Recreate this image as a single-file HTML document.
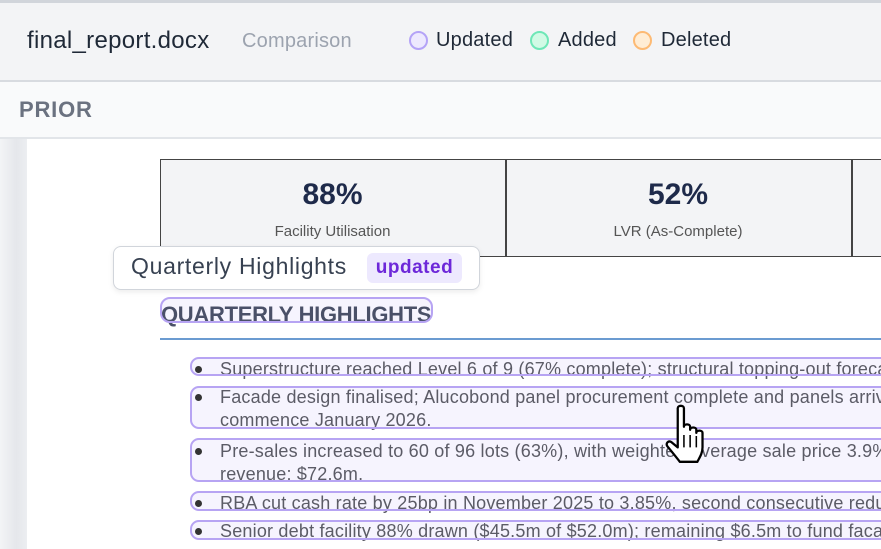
<!DOCTYPE html>
<html><head><style>
*{margin:0;padding:0;box-sizing:border-box}
body{width:881px;height:549px;overflow:hidden;background:#fff;font-family:"Liberation Sans",sans-serif;position:relative}
.abs{position:absolute}
.lg{position:absolute;top:31px;width:19px;height:19px;border-radius:50%;border:2px solid}
.lt{position:absolute;top:29px;font-size:20px;color:#1f2937;letter-spacing:0.2px}
.item{position:absolute;left:190px;width:720px;border:2px solid #b7a4f3;border-radius:9px}
.bg{position:absolute;left:190px;width:720px;background:#f6f4fe;border-radius:9px}
.txt{position:absolute;left:220px;font-size:18px;color:#5b5b66;line-height:23px;white-space:nowrap;letter-spacing:0.2px}
.dot{position:absolute;left:195px;width:7px;height:7px;border-radius:50%;background:#333}
</style></head><body>
<div class="abs" style="left:0;top:0;width:881px;height:80px;background:#f3f4f6;border-top:3px solid #d1d5db"></div>
<div class="abs" style="left:27px;top:27px;font-size:24px;color:#1f2937;letter-spacing:0.3px">final_report.docx</div>
<div class="abs" style="left:242px;top:30px;font-size:20px;color:#9ca3af;letter-spacing:0.2px">Comparison</div>
<div class="lg" style="left:409px;background:#ede9fe;border-color:#b4a3f7"></div><div class="lt" style="left:436px">Updated</div>
<div class="lg" style="left:530px;background:#d1fae5;border-color:#6ee7b7"></div><div class="lt" style="left:558px">Added</div>
<div class="lg" style="left:633px;background:#ffedd5;border-color:#fdba74"></div><div class="lt" style="left:661px">Deleted</div>
<div class="abs" style="left:0;top:80px;width:881px;height:59px;background:#f9fafb;border-top:2px solid #d8dbe0;border-bottom:2px solid #e2e5e9"></div>
<div class="abs" style="left:19px;top:97px;font-size:22px;font-weight:bold;color:#6b7280;letter-spacing:0.8px">PRIOR</div>
<div class="abs" style="left:0;top:139px;width:27px;height:410px;background:linear-gradient(90deg,#f3f4f6,#e5e7eb 60%,#eceef1)"></div>
<div class="abs" style="left:160px;top:159px;width:740px;height:98px;background:#f3f4f6;border:1.5px solid #444"></div>
<div class="abs" style="left:505px;top:159px;width:1.5px;height:98px;background:#444"></div>
<div class="abs" style="left:851px;top:159px;width:1.5px;height:98px;background:#444"></div>
<div class="abs" style="left:160px;top:178px;width:345px;text-align:center;font-size:30px;font-weight:bold;color:#1e2a4a">88%</div>
<div class="abs" style="left:160px;top:223px;width:345px;text-align:center;font-size:15px;color:#555">Facility Utilisation</div>
<div class="abs" style="left:505px;top:178px;width:346px;text-align:center;font-size:30px;font-weight:bold;color:#1e2a4a">52%</div>
<div class="abs" style="left:505px;top:223px;width:346px;text-align:center;font-size:15px;color:#555">LVR (As-Complete)</div>
<div class="abs" style="left:160px;top:297px;width:273px;height:26px;background:#f6f4fe;border-radius:10px"></div>
<div class="abs" style="left:161px;top:302px;font-size:22px;font-weight:bold;color:#4a5068;letter-spacing:-0.3px">QUARTERLY HIGHLIGHTS</div>
<div class="abs" style="left:160px;top:297px;width:273px;height:26px;border:2px solid #b7a4f3;border-radius:10px"></div>
<div class="abs" style="left:160px;top:338px;width:721px;height:2px;background:#6b9bd1"></div>
<div class="abs" style="left:113px;top:246px;width:367px;height:44px;background:#fff;border:1.5px solid #d1d5db;border-radius:8px;box-shadow:0 2px 6px rgba(0,0,0,0.08)"></div>
<div class="abs" style="left:131px;top:253px;font-size:23px;color:#374151;letter-spacing:0.7px">Quarterly Highlights</div>
<div class="abs" style="left:367px;top:253px;width:95px;height:30px;background:#ede9fe;border-radius:6px;color:#6d28d9;font-weight:bold;font-size:19px;text-align:center;line-height:30px;letter-spacing:0.5px">updated</div>
<div class="bg" style="top:357px;height:18px"></div>
<div class="bg" style="top:386px;height:42px"></div>
<div class="bg" style="top:438px;height:43px"></div>
<div class="bg" style="top:491px;height:19px"></div>
<div class="bg" style="top:520px;height:19px"></div>
<div class="dot" style="top:366px"></div><div class="dot" style="top:394px"></div><div class="dot" style="top:448px"></div><div class="dot" style="top:500px"></div><div class="dot" style="top:528px"></div>
<div class="txt" style="top:358px">Superstructure reached Level 6 of 9 (67% complete); structural topping-out forecast</div>
<div class="txt" style="top:386px">Facade design finalised; Alucobond panel procurement complete and panels arriving</div>
<div class="txt" style="top:409px">commence January 2026.</div>
<div class="txt" style="top:440px">Pre-sales increased to 60 of 96 lots (63%), with weighted average sale price 3.9% a</div>
<div class="txt" style="top:463px">revenue: $72.6m.</div>
<div class="txt" style="top:492px">RBA cut cash rate by 25bp in November 2025 to 3.85%, second consecutive reduction</div>
<div class="txt" style="top:520px">Senior debt facility 88% drawn ($45.5m of $52.0m); remaining $6.5m to fund facade</div>
<div class="item" style="top:357px;height:19px"></div>
<div class="item" style="top:386px;height:43px"></div>
<div class="item" style="top:438px;height:44px"></div>
<div class="item" style="top:491px;height:20px"></div>
<div class="item" style="top:520px;height:20px"></div>
<svg class="abs" style="left:660px;top:404px" width="52" height="64" viewBox="0 0 50 62"><path d="M17 4c0-3 6-3 6 0v18c0-3 6-3 6 0v3c0-3 6-3 6 0v3c0-3 6-3 6 0v14c0 6-3 10-5 14H19c-3-4-8-10-12-15-2-3 1-6 4-4l6 5z" fill="#fff" stroke="#000" stroke-width="2.2" stroke-linejoin="round"/><path d="M23 30v12M29 30v12M35 31v11" stroke="#000" stroke-width="1.5"/></svg>
</body></html>
